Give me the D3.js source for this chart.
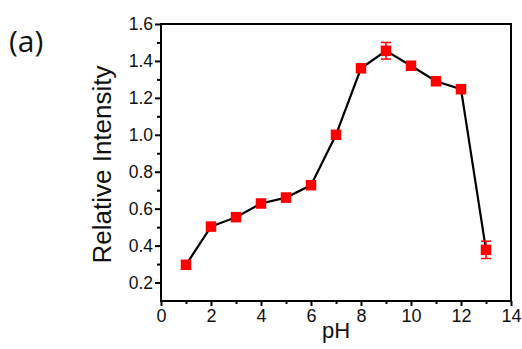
<!DOCTYPE html>
<html>
<head>
<meta charset="utf-8">
<script src="https://cdn.jsdelivr.net/npm/d3@7"></script>
<style>
  html, body { margin: 0; padding: 0; background: #fff; }
  svg { display: block; font-family: "Liberation Sans", Arial, sans-serif; }
</style>
</head>
<body>
<div id="chart"></div>
<script>
// pH values and relative intensity
const phValues = [1, 2, 3, 4, 5, 6, 7, 8, 9, 10, 11, 12, 13];
const intensity = [0.296, 0.503, 0.554, 0.628, 0.66, 0.727, 1.0, 1.36, 1.455, 1.374, 1.29, 1.247, 0.377];
const errors = [0.01, 0.01, 0.01, 0.01, 0.022, 0.01, 0.01, 0.01, 0.045, 0.01, 0.01, 0.01, 0.047];

const xTicks = [0, 2, 4, 6, 8, 10, 12, 14];
const xMinor = [1, 3, 5, 7, 9, 11, 13];
const yTicks = [0.2, 0.4, 0.6, 0.8, 1.0, 1.2, 1.4, 1.6];
const yMinor = [0.3, 0.5, 0.7, 0.9, 1.1, 1.3, 1.5];

const W = 522, H = 349;
const margin = { top: 24, right: 11, bottom: 48, left: 161 };
const width = W - margin.left - margin.right,
    height = H - margin.top - margin.bottom;

let x = d3.scaleLinear().domain([0, 14]).range([0, width]);
let y = d3.scaleLinear().domain([0.1, 1.6]).range([height, 0]);

let svg = d3.select('#chart').append('svg')
    .attr('width', W)
    .attr('height', H);

let main = svg.append('g')
    .attr('transform', 'translate(' + margin.left + ',' + margin.top + ')');

// frame
main.append('rect')
    .attr('width', width).attr('height', height)
    .attr('fill', 'none').attr('stroke', '#000').attr('stroke-width', 2);

// x axis, major then minor ticks
let xAxis = d3.axisBottom(x).tickValues(xTicks).tickSize(5).tickPadding(3)
    .tickFormat(d3.format('d'));
let gx = main.append('g').attr('transform', 'translate(0,' + height + ')').call(xAxis);
main.append('g').attr('transform', 'translate(0,' + height + ')')
    .call(d3.axisBottom(x).tickValues(xMinor).tickSize(3).tickFormat(''));

// y axis
let yAxis = d3.axisLeft(y).tickValues(yTicks).tickSize(6).tickPadding(2)
    .tickFormat(d3.format('.1f'));
let gy = main.append('g').call(yAxis);
main.append('g')
    .call(d3.axisLeft(y).tickValues(yMinor).tickSize(4).tickFormat(''));

main.selectAll('.domain').remove();
main.selectAll('.tick line').attr('stroke', '#000').attr('stroke-width', 2);
gx.selectAll('text').attr('font-size', 18).attr('fill', '#111');
gy.selectAll('text').attr('font-size', 17.5).attr('fill', '#111');

// axis titles
svg.append('text')
    .attr('x', margin.left + width / 2).attr('y', 338)
    .attr('text-anchor', 'middle').attr('font-size', 22).attr('fill', '#111')
    .text('pH');

svg.append('text')
    .attr('transform', 'translate(111,' + (margin.top + height / 2 + 2) + ') rotate(-90)')
    .attr('text-anchor', 'middle').attr('font-size', 26).attr('fill', '#111')
    .text('Relative Intensity');

svg.append('text')
    .attr('x', 9).attr('y', 52)
    .attr('font-family', '"Open Sans", sans-serif')
    .attr('font-size', 30).attr('fill', '#111')
    .text('(a)');

let data = phValues.map(function (d, i) { return { x: d, y: intensity[i], e: errors[i] }; });

// connecting line
let line = d3.line()
    .x(function (d) { return x(d.x); })
    .y(function (d) { return y(d.y); });

main.append('path')
    .datum(data)
    .attr('d', line)
    .attr('fill', 'none')
    .attr('stroke', '#000')
    .attr('stroke-width', 2.2);

// error bars
let eb = main.append('g').attr('stroke', '#f00').attr('stroke-width', 1.5);
data.filter(function (d) { return d.e > 0.015; }).forEach(function (d) {
    let cx = x(d.x);
    eb.append('line').attr('x1', cx).attr('x2', cx).attr('y1', y(d.y - d.e)).attr('y2', y(d.y + d.e));
    eb.append('line').attr('x1', cx - 5).attr('x2', cx + 5).attr('y1', y(d.y - d.e)).attr('y2', y(d.y - d.e));
    eb.append('line').attr('x1', cx - 5).attr('x2', cx + 5).attr('y1', y(d.y + d.e)).attr('y2', y(d.y + d.e));
});

// square markers
const ms = 10.5;
main.append('g').selectAll('rect').data(data).enter().append('rect')
    .attr('x', function (d) { return x(d.x) - ms / 2; })
    .attr('y', function (d) { return y(d.y) - ms / 2; })
    .attr('width', ms).attr('height', ms)
    .attr('fill', '#f00');
</script>
</body>
</html>
